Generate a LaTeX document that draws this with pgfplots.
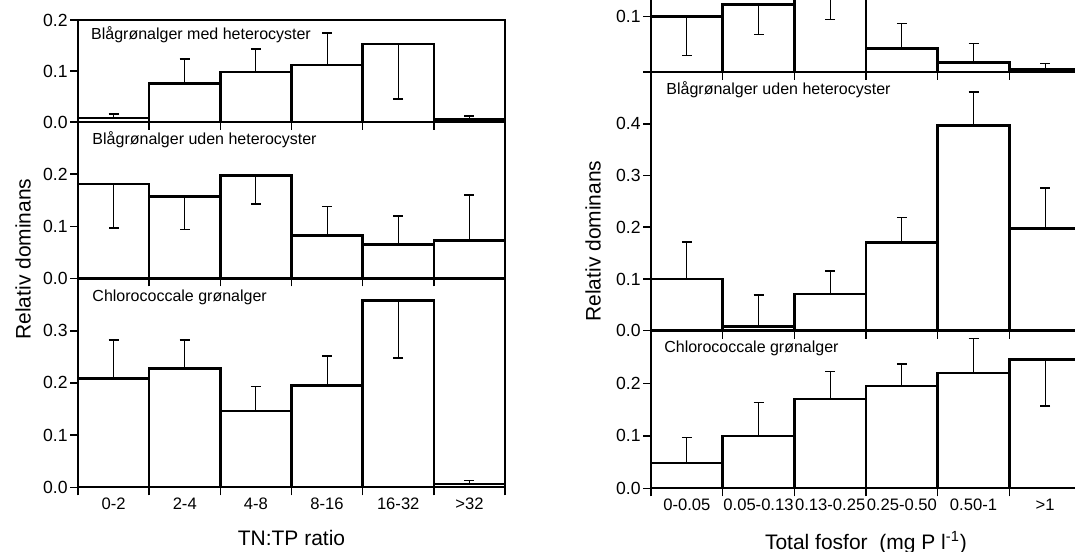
\documentclass[border=0pt]{standalone}
\usepackage{fontspec}
\setmainfont{Liberation Sans}
\usepackage{pgfplots}
\pgfplotsset{compat=1.18}
\pgfplotsset{
  panel/.style={
    scale only axis,
    xmin=-0.5, xmax=5.5, ymin=0,
    axis line style={line width=1pt},
    xtick={-0.5,0.5,...,5.5}, xticklabels={},
    xtick pos=bottom, ytick pos=left,
    tick align=outside, major tick length=4pt,
    tick style={black, line width=0.8pt},
    tick label style={font=\fontsize{8.8}{10}\selectfont},
    yticklabel style={inner sep=1pt},
    /pgf/number format/assume math mode=true,
    /pgf/number format/fixed, /pgf/number format/fixed zerofill,
    /pgf/number format/precision=1,
    xlabel style={font=\fontsize{10.5}{12}\selectfont, inner sep=1pt, yshift=-1.5pt},
  },
  barsup/.style={ybar, bar width=1, bar shift=0pt, fill=white, draw=black, line width=1.3pt,
    error bars/.cd, y dir=plus, y explicit,
    error bar style={line width=0.5pt, black},
    error mark options={rotate=90, mark size=2.5pt, line width=0.8pt, black}},
  barsdown/.style={ybar, bar width=1, bar shift=0pt, fill=white, draw=black, line width=1.3pt,
    error bars/.cd, y dir=minus, y explicit,
    error bar style={line width=0.5pt, black},
    error mark options={rotate=90, mark size=2.5pt, line width=0.8pt, black}},
  cats/.style={extra x ticks={0,1,2,3,4,5}, extra x tick style={major tick length=0pt,
    xticklabel style={yshift=-2pt, font=\fontsize{8.3}{10}\selectfont}}},
}
\newcommand{\ttl}[2]{\node[anchor=west, font=\fontsize{8}{10}\selectfont, inner sep=0pt] at (rel axis cs:#1) {#2};}
\begin{document}
\begin{tikzpicture}
\useasboundingbox (0pt,0pt) rectangle (537.5pt,275.5pt);
\clip (0pt,0pt) rectangle (537.5pt,275.5pt);
% ---------------- Left panel: TN:TP ratio ----------------
\begin{axis}[panel, at={(39pt,214.5pt)}, anchor=south west, width=213.5pt, height=51pt,
  ymax=0.2, ytick={0,0.1,0.2}]
\addplot[barsup] coordinates {(0,0.008) +- (0,0.008) (1,0.076) +- (0,0.048) (2,0.098) +- (0,0.045) (3,0.112) +- (0,0.062) (5,0.005) +- (0,0.007)};
\addplot[barsdown] coordinates {(4,0.153) +- (0,0.108)};
\ttl{0.03,0.853}{Blågrønalger med heterocyster}
\end{axis}
\begin{axis}[panel, at={(39pt,136.25pt)}, anchor=south west, width=213.5pt, height=78.25pt,
  ymax=0.3, ytick={0,0.1,0.2}]
\addplot[barsdown] coordinates {(0,0.181) +- (0,0.084) (1,0.157) +- (0,0.063) (2,0.198) +- (0,0.055)};
\addplot[barsup] coordinates {(3,0.082) +- (0,0.056) (4,0.065) +- (0,0.055) (5,0.073) +- (0,0.087)};
\ttl{0.033,0.885}{Blågrønalger uden heterocyster}
\end{axis}
\begin{axis}[panel, cats, at={(39pt,31.85pt)}, anchor=south west, width=213.5pt, height=104.4pt,
  ymax=0.4, ytick={0,0.1,0.2,0.3},
  extra x tick labels={0-2,2-4,4-8,8-16,16-32,>32},
  xlabel={TN:TP ratio}]
\addplot[barsup] coordinates {(0,0.208) +- (0,0.074) (1,0.228) +- (0,0.054) (2,0.146) +- (0,0.047) (3,0.195) +- (0,0.057) (5,0.006) +- (0,0.007)};
\addplot[barsdown] coordinates {(4,0.358) +- (0,0.110)};
\ttl{0.033,0.91}{Chlorococcale grønalger}
\end{axis}
% ---------------- Right panel: Total fosfor ----------------
\begin{axis}[panel, at={(325.5pt,239.5pt)}, anchor=south west, width=215pt, height=55.3pt,
  ymax=0.2, ytick={0,0.1}, yticklabels={,0.1}]
\addplot[barsdown] coordinates {(0,0.100) +- (0,0.070) (1,0.1225) +- (0,0.055) (2,0.160) +- (0,0.065)};
\addplot[barsup] coordinates {(3,0.0425) +- (0,0.045) (4,0.0176) +- (0,0.034) (5,0.005) +- (0,0.010)};
\end{axis}
\begin{axis}[panel, at={(325.5pt,110.15pt)}, anchor=south west, width=215pt, height=129.35pt,
  ymax=0.5, ytick={0,0.1,0.2,0.3,0.4}]
\addplot[barsup] coordinates {(0,0.100) +- (0,0.071) (1,0.008) +- (0,0.061) (2,0.071) +- (0,0.044) (3,0.170) +- (0,0.049) (4,0.397) +- (0,0.064) (5,0.197) +- (0,0.079)};
\ttl{0.035,0.93}{Blågrønalger uden heterocyster}
\end{axis}
\begin{axis}[panel, cats, at={(325.5pt,31.35pt)}, anchor=south west, width=215pt, height=78.65pt,
  ymax=0.3, ytick={0,0.1,0.2},
  extra x tick labels={0-0.05,0.05-0.13,0.13-0.25,0.25-0.50,0.50-1,>1},
  xlabel={Total fosfor\ \ (mg P l\textsuperscript{-1})}]
\addplot[barsup] coordinates {(0,0.048) +- (0,0.049) (1,0.100) +- (0,0.064) (2,0.170) +- (0,0.053) (3,0.195) +- (0,0.042) (4,0.220) +- (0,0.066)};
\addplot[barsdown] coordinates {(5,0.246) +- (0,0.089)};
\ttl{0.03,0.89}{Chlorococcale grønalger}
\end{axis}
\node[rotate=90, font=\fontsize{10.5}{12}\selectfont] at (11.5pt,146pt) {Relativ dominans};
\node[rotate=90, font=\fontsize{10.5}{12}\selectfont] at (296.5pt,155pt) {Relativ dominans};
\end{tikzpicture}
\end{document}
